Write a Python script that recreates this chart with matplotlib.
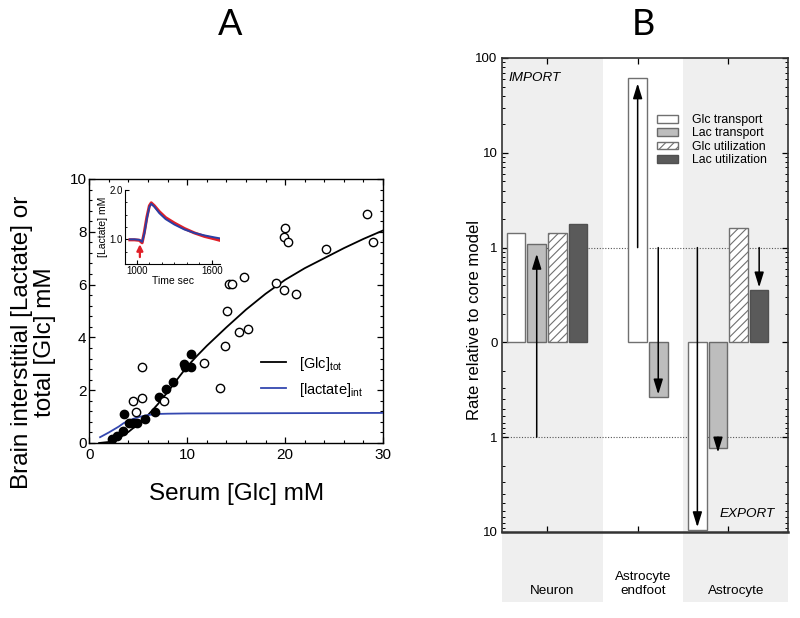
import numpy as np
import matplotlib
matplotlib.use("Agg")
import matplotlib.pyplot as plt
from matplotlib.patches import Patch
from matplotlib.ticker import FixedLocator, MultipleLocator, NullFormatter

plt.rcParams['font.family'] = ['Liberation Sans', 'DejaVu Sans']
plt.rcParams['mathtext.default'] = 'regular'
plt.rcParams['hatch.color'] = '#707070'
plt.rcParams['hatch.linewidth'] = 0.8

# ---------------- Panel A data ----------------
filled_x = [2.28, 2.8, 3.4, 3.57, 4.05, 4.43, 4.83, 5.72, 6.7, 7.11, 7.83, 8.5, 9.7, 9.77, 10.38, 10.37]
filled_y = [0.14, 0.27, 0.45, 1.09, 0.75, 0.75, 0.77, 0.9, 1.19, 1.73, 2.03, 2.32, 2.98, 2.89, 2.87, 3.38]
open_x = [4.43, 4.73, 5.41, 5.35, 7.62, 11.7, 13.37, 13.88, 14.1, 14.22, 14.6, 15.78, 15.3, 16.26,
          19.05, 19.9, 19.9, 20.0, 20.34, 21.1, 24.2, 28.4, 29.0]
open_y = [1.59, 1.19, 2.89, 1.72, 1.59, 3.04, 2.1, 3.68, 4.99, 6.03, 6.03, 6.3, 4.21, 4.33,
          6.05, 5.78, 7.8, 8.15, 7.63, 5.65, 7.36, 8.66, 7.6]
glc_x = [1, 2, 3, 4, 5, 6, 7, 8, 9, 10, 11, 12, 14, 16, 18, 20, 22, 24, 26, 28, 30]
glc_y = [0.0, 0.04, 0.18, 0.42, 0.72, 1.06, 1.47, 1.93, 2.42, 2.9, 3.3, 3.68, 4.38, 5.05,
         5.65, 6.18, 6.62, 7.0, 7.38, 7.73, 8.05]
lac_x = [1.1, 2, 3, 3.5, 4, 5, 6, 7, 8, 10, 20, 30]
lac_y = [0.22, 0.4, 0.62, 0.75, 0.85, 0.98, 1.06, 1.1, 1.11, 1.12, 1.13, 1.14]

# inset data
t_ins = [944, 980, 1020, 1042, 1060, 1080, 1100, 1115, 1140, 1180, 1230, 1300, 1380, 1460, 1540, 1620, 1664]
lac_red = [0.99, 0.99, 0.98, 0.93, 1.15, 1.45, 1.68, 1.74, 1.68, 1.56, 1.44, 1.33, 1.22, 1.13, 1.06, 1.01, 0.98]
lac_blue = [1.0, 1.0, 0.99, 0.95, 1.12, 1.42, 1.66, 1.72, 1.66, 1.53, 1.41, 1.30, 1.20, 1.13, 1.08, 1.04, 1.02]

# ---------------- Panel B data ----------------
groups = ['Neuron', 'Astrocyte\nendfoot', 'Astrocyte']
metrics = ['Glc transport', 'Lac transport', 'Glc utilization', 'Lac utilization']
glc_transport = [1.44, 62.0, -9.6]
lac_transport = [1.08, -0.38, -1.29]
glc_utilization = [1.44, np.nan, 1.62]
lac_utilization = [1.76, np.nan, 0.354]
arrow_group = [0, 1, 1, 2, 2, 2]
arrow_metric = [1, 0, 1, 0, 1, 3]
arrow_from = [-1, 1, 1, 1, -1, 1]
arrow_to = [0.86, 54, -0.354, -8.9, -1.45, 0.38]
ytick_vals = [-10, -1, 0, 1, 10, 100]
ytick_labels = ['10', '1', '0', '1', '10', '100']

fig = plt.figure(figsize=(8, 6.18), dpi=100)
W, H = 800, 618

def fax(l, t, r, b):
    return fig.add_axes([l / W, 1 - b / H, (r - l) / W, (b - t) / H])

# ================= Panel A =================
axA = fax(89.3, 179, 383, 443)
axA.plot(glc_x, glc_y, color='black', lw=1.3, label='[Glc]$_{tot}$', zorder=3)
axA.plot(lac_x, lac_y, color='#3448b0', lw=1.3, label='[lactate]$_{int}$', zorder=3)
axA.scatter(filled_x, filled_y, s=36, color='black', zorder=4)
axA.scatter(open_x, open_y, s=36, facecolors='white', edgecolors='black', linewidths=1.0, zorder=4)
axA.set_xlim(0, 30)
axA.set_ylim(0, 10)
axA.xaxis.set_major_locator(MultipleLocator(10))
axA.xaxis.set_minor_locator(MultipleLocator(2))
axA.yaxis.set_major_locator(MultipleLocator(2))
axA.yaxis.set_minor_locator(MultipleLocator(0.4))
axA.tick_params(which='both', direction='in', top=True, right=True, labelsize=11)
axA.tick_params(which='major', length=4.5, width=0.9)
axA.tick_params(which='minor', length=2.5, width=0.8)
axA.tick_params(axis='y', pad=2)
for s in axA.spines.values():
    s.set_linewidth(1.0)
axA.legend(loc='upper left', bbox_to_anchor=(0.585, 0.335), frameon=False, fontsize=10.5,
           handlelength=1.7, handletextpad=0.9, borderpad=0, borderaxespad=0, labelspacing=0.55)

fig.text(21.7 / W, 1 - 342 / H, 'Brain interstitial [Lactate] or', rotation=90,
         ha='center', va='center', fontsize=17.5)
fig.text(45 / W, 1 - 342 / H, 'total [Glc] mM', rotation=90,
         ha='center', va='center', fontsize=17.5)
fig.text(237 / W, 1 - 494 / H, 'Serum [Glc] mM', ha='center', va='center', fontsize=17.5)

# inset
axI = fax(125, 190, 220, 264)
axI.plot(t_ins, lac_red, color='#e02028', lw=2.2)
axI.plot(t_ins, lac_blue, color='#2a3fa6', lw=1.4)
axI.set_xlim(905, 1665)
axI.set_ylim(0.5, 2.0)
axI.spines['top'].set_visible(False)
axI.spines['right'].set_visible(False)
axI.set_xticks([1000, 1600])
axI.set_yticks([1.0, 2.0])
axI.set_yticklabels(['1.0', '2.0'])
axI.xaxis.set_minor_locator(MultipleLocator(100))
axI.yaxis.set_minor_locator(MultipleLocator(0.25))
axI.tick_params(which='both', direction='in', labelsize=7, pad=1.5)
axI.tick_params(which='major', length=3)
axI.tick_params(which='minor', length=1.5)
axI.set_xlabel('Time sec', fontsize=7.5, labelpad=0)
axI.set_ylabel('[Lactate] mM', fontsize=7.5, labelpad=1)
axI.annotate('', xy=(1024, 0.9), xytext=(1024, 0.64),
             arrowprops=dict(arrowstyle='-|>', color='#e02028', lw=1.6, mutation_scale=9,
                             shrinkA=0, shrinkB=0))

fig.text(230 / W, 1 - 24.5 / H, 'A', ha='center', va='center', fontsize=26,
         family=['Lato', 'DejaVu Sans'])
fig.text(643 / W, 1 - 24.5 / H, 'B', ha='center', va='center', fontsize=26,
         family=['Lato', 'DejaVu Sans'])

# ================= Panel B =================
def fwd(y):
    y = np.asarray(y, dtype=float)
    a = np.abs(y)
    p = np.log10(np.maximum(a, 0.1) / 0.1)
    return np.sign(y) * p

def inv(p):
    p = np.asarray(p, dtype=float)
    return np.sign(p) * 0.1 * 10.0 ** np.abs(p)

axB = fax(501.7, 58, 788, 532)
axB.set_zorder(2)
axB.set_yscale('function', functions=(fwd, inv))
axB.set_xlim(0, 13.9)
axB.set_ylim(-10, 100)

shade = '#efefef'
spans = [(0, 4.92), (8.82, 13.9)]
for a, b in spans:
    axB.axvspan(a, b, color=shade, lw=0, zorder=0)
axB.axhline(1, color='#555555', ls=(0, (1, 1.5)), lw=0.8, zorder=0.5)
axB.axhline(-1, color='#555555', ls=(0, (1, 1.5)), lw=0.8, zorder=0.5)

centers = [2.2, 6.6, 11.0]
group_shift = [0.0, 1.5, 0.0]
offsets = [-1.5, -0.5, 0.5, 1.5]
series = [glc_transport, lac_transport, glc_utilization, lac_utilization]
styles = [dict(facecolor='white', edgecolor='#707070', hatch=None),
          dict(facecolor='#bdbdbd', edgecolor='#6a6a6a', hatch=None),
          dict(facecolor='white', edgecolor='#707070', hatch='////'),
          dict(facecolor='#5a5a5a', edgecolor='#505050', hatch=None)]

def xpos(g, m):
    return centers[g] + offsets[m] + group_shift[g]

for m, vals in enumerate(series):
    for g, v in enumerate(vals):
        if np.isnan(v):
            continue
        axB.bar(xpos(g, m), v, width=0.9, bottom=0, lw=1.0, zorder=2, **styles[m])

for g, m, y0, y1 in zip(arrow_group, arrow_metric, arrow_from, arrow_to):
    x = xpos(g, m)
    axB.annotate('', xy=(x, y1), xytext=(x, y0),
                 arrowprops=dict(arrowstyle='-|>,head_length=0.65,head_width=0.2', color='black',
                                 lw=1.1, mutation_scale=14, shrinkA=0, shrinkB=0), zorder=3)

axB.yaxis.set_major_locator(FixedLocator(ytick_vals))
axB.set_yticklabels(ytick_labels)
minor = ([-v for v in range(2, 10)] + [-v / 10 for v in range(2, 10)] +
         [v / 10 for v in range(2, 10)] + list(range(2, 10)) + [10 * v for v in range(2, 10)])
axB.yaxis.set_minor_locator(FixedLocator(minor))
axB.yaxis.set_minor_formatter(NullFormatter())
axB.set_xticks(centers)
axB.set_xticklabels([])
axB.tick_params(which='both', direction='in', top=True, right=True, labelsize=9.5)
axB.tick_params(which='major', length=4.5, width=0.9)
axB.tick_params(which='minor', length=2.5, width=0.7)
axB.tick_params(axis='y', pad=3)
for s in axB.spines.values():
    s.set_linewidth(1.2)
    s.set_color('#333333')
axB.spines['bottom'].set_linewidth(1.8)

axB.text(0.022, 0.958, 'IMPORT', transform=axB.transAxes, ha='left', va='center',
         fontsize=9.7, style='italic')
axB.text(0.955, 0.038, 'EXPORT', transform=axB.transAxes, ha='right', va='center',
         fontsize=9.7, style='italic')

handles = [Patch(linewidth=1.0, **st) for st in styles]
axB.legend(handles, metrics, loc='upper left', bbox_to_anchor=(0.541, 0.882), frameon=False,
           fontsize=8.8, handlelength=1.75, handleheight=0.6, handletextpad=1.15,
           borderpad=0, borderaxespad=0, labelspacing=0.12)

fig.text(474.5 / W, 1 - 320 / H, 'Rate relative to core model', rotation=90,
         ha='center', va='center', fontsize=12)

axL = fax(501.7, 532, 788, 602)
axL.set_zorder(1)
axL.set_xlim(0, 13.9)
axL.set_ylim(0, 1)
axL.axis('off')
for a, b in spans:
    axL.axvspan(a, b, color=shade, lw=0, zorder=0)
bounds = [0, 4.92, 8.82, 13.9]
for i, name in enumerate(groups):
    axL.text((bounds[i] + bounds[i + 1]) / 2, 0.07, name, ha='center', va='bottom',
             fontsize=9.7, linespacing=1.25)

fig.savefig('out.png', dpi=100)
